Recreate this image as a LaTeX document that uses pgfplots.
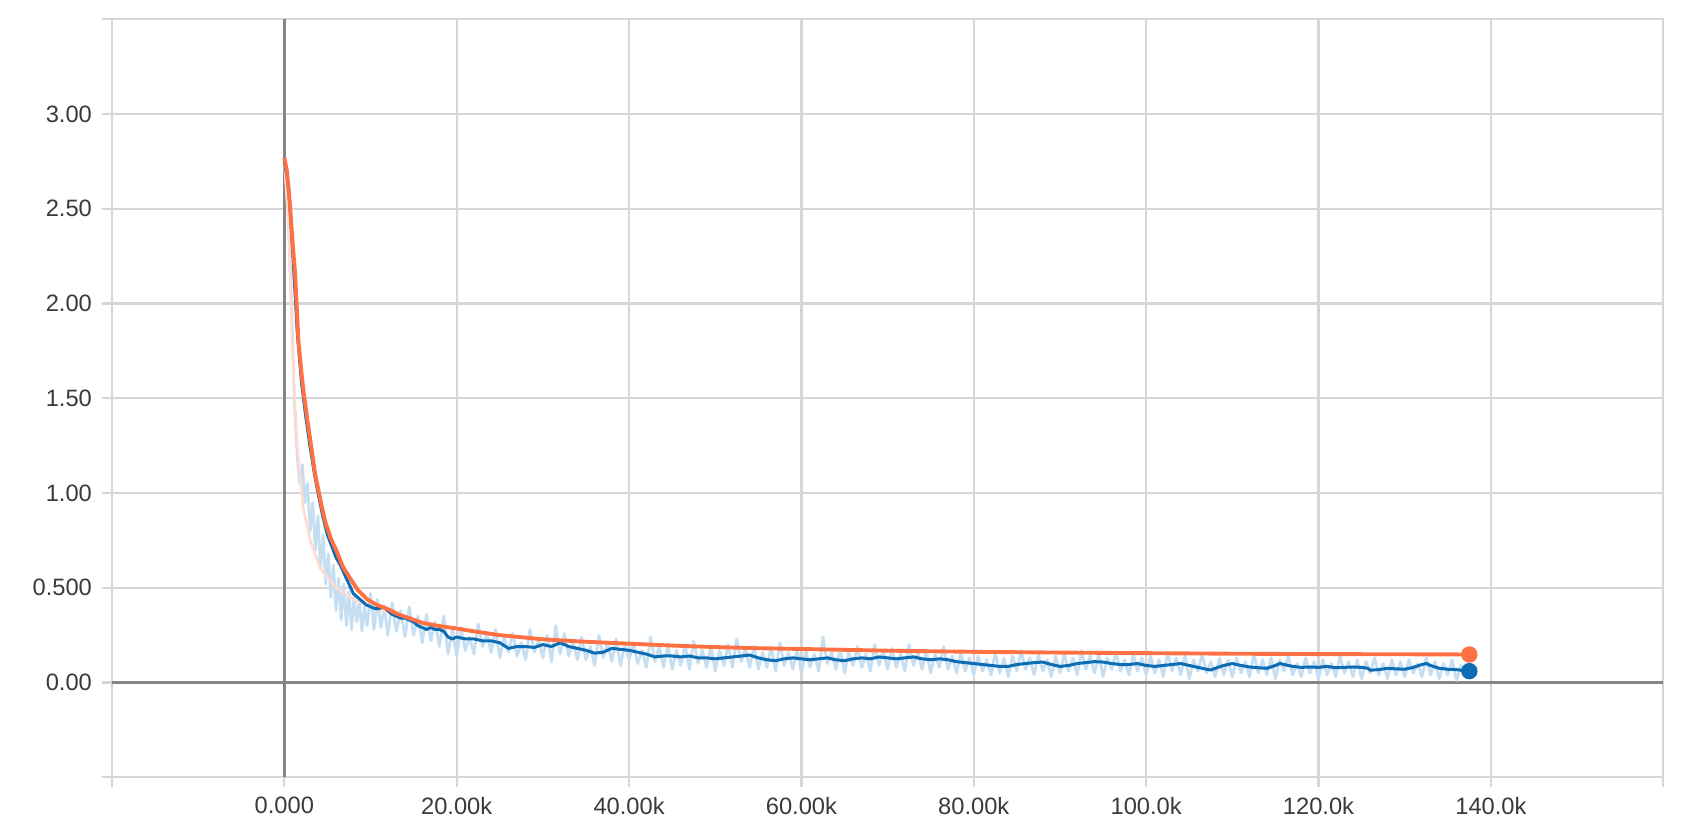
\documentclass[border=0pt]{standalone}
\usepackage{fontspec}
\setmainfont{Liberation Sans}
\usepackage{pgfplots}
\pgfplotsset{compat=1.18}
\definecolor{tbblue}{HTML}{0C6DB5}
\definecolor{tborange}{HTML}{FF7043}
\definecolor{rawblue}{HTML}{C6DEF1}
\definecolor{raworange}{HTML}{FFDCD0}
\definecolor{gridc}{HTML}{D6D6D6}
\definecolor{zeroc}{HTML}{858585}
\definecolor{labc}{HTML}{3A3A3A}

\begin{document}
\begin{tikzpicture}
\begin{axis}[
  scale only axis, width=720.5pt, height=352pt,
  xmin=-20, xmax=160, ymin=-0.5, ymax=3.5,
  xtick={-20,0,20,40,60,80,100,120,140,160},
  xticklabels={,0.000,20.00k,40.00k,60.00k,80.00k,100.0k,120.0k,140.0k,},
  ytick={-0.5,0,0.5,1,1.5,2,2.5,3,3.5},
  yticklabels={,0.00,0.500,1.00,1.50,2.00,2.50,3.00,},
  grid=major, major grid style={gridc, line width=1pt},
  axis line style={gridc, line width=1pt},
  tick style={gridc, line width=1pt},
  tick align=outside, major tick length=4.6pt,
  xtick pos=bottom, ytick pos=left,
  ticklabel style={font=\fontsize{11}{13}\selectfont, text=labc},
  yticklabel style={xshift=-1.2pt},
  xticklabel style={yshift=-1pt},
]
% zero lines
\draw[zeroc, line width=1.2pt] (axis cs:0,-0.5) -- (axis cs:0,3.5);
\draw[zeroc, line width=1.2pt] (axis cs:-20,0) -- (axis cs:160,0);

% raw training loss (light)
\addplot[rawblue, line width=1.3pt, line join=round] coordinates {
(0,2.76) (0.3,2.60) (0.6,2.30) (0.9,1.90) (1.2,1.45) (1.5,1.20) (1.8,1.05)
(2.1,1.15) (2.4,0.95) (2.7,1.05) (3.0,0.80) (3.3,0.95) (3.6,0.70) (3.9,0.88)
(4.2,0.60) (4.5,0.78) (4.8,0.52) (5.1,0.68) (5.4,0.45) (5.7,0.62) (6.0,0.38)
(6.3,0.55) (6.6,0.33) (6.9,0.52) (7.2,0.30) (7.5,0.48) (7.8,0.28) (8.1,0.45)
(8.4,0.32) (8.7,0.43) (9.0,0.27) (9.3,0.40) (9.6,0.30) (10,0.47) (10.4,0.28)
(10.8,0.44) (11.2,0.29) (11.6,0.40) (12,0.25) (12.5,0.42) (13,0.27)
(13.5,0.38) (14,0.24) (14.5,0.40) (15,0.25) (15.5,0.35) (16,0.21) (16.5,0.36)
(17,0.22) (17.5,0.32) (18,0.19) (18.5,0.35) (19,0.15) (19.5,0.28) (20,0.14)
(20.5,0.29) (21,0.17) (21.5,0.24) (22,0.15) (22.5,0.31) (23,0.19) (23.5,0.26)
(24,0.16) (24.5,0.28) (25,0.13) (25.5,0.24) (26,0.16)
(26.5,0.26) (27,0.14) (27.5,0.21) (28,0.12) (28.5,0.28) (29,0.16) (29.5,0.23)
(30,0.13) (30.5,0.25) (31,0.11) (31.5,0.30) (32,0.15) (32.5,0.26) (33,0.14)
(33.5,0.21) (34,0.12)
(34.5,0.24) (35,0.12) (35.5,0.19) (36,0.09) (36.5,0.25) (37,0.13) (37.5,0.21)
(38,0.11) (38.5,0.23) (39,0.09) (39.5,0.20) (40,0.12)
(40.5,0.21) (41,0.10) (41.5,0.17) (42,0.08) (42.5,0.24) (43,0.11) (43.5,0.19)
(44,0.08) (44.5,0.20) (45,0.07)
(45.5,0.17) (46,0.09) (46.5,0.20) (47,0.07) (47.5,0.22) (48,0.10) (48.5,0.17)
(49,0.08) (49.5,0.19) (50,0.06) (50.5,0.17) (51,0.09) (51.5,0.20) (52,0.08)
(52.5,0.23) (53,0.11) (53.5,0.18) (54,0.08) (54.5,0.19) (55,0.07)
(55.5,0.16) (56,0.08) (56.5,0.19) (57,0.06) (57.5,0.21) (58,0.09) (58.5,0.16)
(59,0.07) (59.5,0.18) (60,0.05)
(60.5,0.17) (61,0.08) (61.5,0.15) (62,0.06) (62.5,0.24) (63,0.10) (63.5,0.16)
(64,0.07) (64.5,0.18) (65,0.05) (65.5,0.16) (66,0.09) (66.5,0.19) (67,0.08)
(67.5,0.15) (68,0.06) (68.5,0.20) (69,0.09) (69.5,0.17) (70,0.07)
(70.5,0.18) (71,0.08) (71.5,0.15) (72,0.06) (72.5,0.20) (73,0.09) (73.5,0.16)
(74,0.07) (74.5,0.17) (75,0.05) (75.5,0.15) (76,0.08) (76.5,0.19) (77,0.07)
(77.5,0.14) (78,0.05) (78.5,0.16) (79,0.06) (79.5,0.13) (80,0.04)
(80.5,0.14) (81,0.06) (81.5,0.12) (82,0.04) (82.5,0.16) (83,0.05) (83.5,0.13)
(84,0.03) (84.5,0.14) (85,0.06) (85.5,0.17) (86,0.07) (86.5,0.13) (87,0.04)
(87.5,0.15) (88,0.06) (88.5,0.12) (89,0.03) (89.5,0.14) (90,0.05)
(90.5,0.15) (91,0.06) (91.5,0.13) (92,0.04) (92.5,0.17) (93,0.07) (93.5,0.14)
(94,0.05) (94.5,0.15) (95,0.03) (95.5,0.13) (96,0.07) (96.5,0.16) (97,0.06)
(97.5,0.12) (98,0.04) (98.5,0.15) (99,0.06) (99.5,0.13) (100,0.04)
(100.5,0.14) (101,0.05) (101.5,0.12) (102,0.03) (102.5,0.16) (103,0.06)
(103.5,0.13) (104,0.04) (104.5,0.14) (105,0.02) (105.5,0.12) (106,0.06)
(106.5,0.15) (107,0.05) (107.5,0.11) (108,0.03) (108.5,0.13) (109,0.04)
(109.5,0.12) (110,0.03)
(110.5,0.13) (111,0.05) (111.5,0.11) (112,0.03) (112.5,0.15) (113,0.05)
(113.5,0.12) (114,0.04) (114.5,0.13) (115,0.02) (115.5,0.12) (116,0.06)
(116.5,0.14) (117,0.04) (117.5,0.10) (118,0.03) (118.5,0.13) (119,0.05)
(119.5,0.11) (120,0.02)
(120.5,0.12) (121,0.04) (121.5,0.10) (122,0.03) (122.5,0.14) (123,0.05)
(123.5,0.11) (124,0.03) (124.5,0.12) (125,0.02) (125.5,0.11) (126,0.05)
(126.5,0.13) (127,0.04) (127.5,0.10) (128,0.02) (128.5,0.12) (129,0.04)
(129.5,0.11) (130,0.03) (130.5,0.12) (131,0.05) (131.5,0.10) (132,0.03)
(132.5,0.13) (133,0.04) (133.5,0.11) (134,0.02) (134.5,0.10) (135,0.04)
(135.5,0.12) (136,0.01) (136.5,0.09) (137,0.04) (137.5,0.07)
};

% raw validation loss (light)
\addplot[raworange, line width=1.2pt] coordinates {
(0,2.76) (0.5,2.40) (1.05,1.63) (1.5,1.25) (2.2,0.92) (3,0.75) (4.2,0.60)
(6,0.50) (8,0.44) (10,0.40) (12,0.37) (15,0.33) (20,0.285)
};

% smoothed training loss
\addplot[tbblue, line width=1.4pt, line join=round] coordinates {
(0,2.75) (0.5,2.62) (1.0,2.25) (1.5,1.85) (2.0,1.58) (2.5,1.40) (3.0,1.24)
(3.5,1.10) (4.0,0.98) (4.5,0.87) (5.0,0.78) (5.5,0.72) (6.0,0.66) (6.5,0.62)
(7.0,0.57) (7.5,0.52) (8.0,0.47) (8.5,0.45) (9.0,0.43) (9.5,0.41) (10.0,0.40)
(10.5,0.39) (11.0,0.39) (11.5,0.40) (12.0,0.38) (12.5,0.36) (13.0,0.35)
(13.5,0.34) (14.0,0.34) (14.5,0.33) (15.0,0.32) (15.5,0.30) (16.0,0.29)
(16.5,0.28) (17.0,0.29) (17.5,0.28) (18.0,0.28) (18.5,0.27) (19.0,0.24)
(19.5,0.23) (20,0.24) (21,0.23) (22,0.23) (23,0.22) (24,0.22) (25,0.21)
(26,0.18) (27,0.19) (28,0.19) (29,0.185) (30,0.20) (31,0.19) (32,0.21)
(33,0.19) (34,0.18) (35,0.17) (36,0.155) (37,0.16) (38,0.18) (39,0.175)
(40,0.17) (41,0.16) (42,0.15) (43,0.135) (44,0.14) (45,0.14) (46,0.135)
(47,0.14) (48,0.13) (49,0.13) (50,0.125) (51,0.13) (52,0.135) (53,0.14)
(54,0.145) (55,0.13) (56,0.12) (57,0.115) (58,0.125) (59,0.13) (60,0.125)
(61,0.12) (62,0.125) (63,0.13) (64,0.12) (65,0.115) (66,0.125) (67,0.13)
(68,0.125) (69,0.135) (70,0.13) (71,0.125) (72,0.13) (73,0.135) (74,0.125)
(75,0.12) (76,0.125) (77,0.12) (78,0.11) (79,0.105) (80,0.10) (81,0.095)
(82,0.09) (83,0.085) (84,0.085) (85,0.095) (86,0.10) (87,0.105) (88,0.108)
(89,0.095) (90,0.085) (91,0.09) (92,0.10) (93,0.105) (94,0.11) (95,0.108)
(96,0.10) (97,0.095) (98,0.095) (99,0.10) (100,0.09) (101,0.085) (102,0.09)
(103,0.095) (104,0.10) (105,0.09) (106,0.08) (107,0.07) (107.5,0.066)
(108,0.075) (109,0.09) (110,0.10) (111,0.09) (112,0.082) (113,0.078)
(114,0.075) (115,0.09) (115.5,0.10) (116,0.095) (117,0.085) (118,0.08)
(119,0.082) (120,0.08) (121,0.085) (122,0.078) (123,0.08) (124,0.082)
(125,0.08) (125.7,0.075) (126,0.065) (127,0.068) (128,0.075) (129,0.072)
(130,0.07) (131,0.08) (132,0.095) (132.5,0.10) (133,0.09) (134,0.075)
(135,0.07) (136,0.068) (137,0.062) (137.5,0.06)
};

% smoothed validation loss
\addplot[tborange, line width=1.8pt, line join=round] coordinates {
(0,2.77) (0.3,2.70) (0.67,2.51) (1.0,2.30) (1.25,2.16) (1.64,1.80) (2.0,1.63)
(2.22,1.54) (2.8,1.345) (3.2,1.22) (3.58,1.10) (4.2,0.96) (4.74,0.85)
(5.4,0.76) (6.1,0.69) (6.8,0.61) (7.64,0.55) (8.5,0.49) (9.58,0.44)
(10.7,0.41) (11.9,0.39) (13.2,0.36) (14.6,0.338) (16,0.315) (17.7,0.30)
(20,0.285) (22,0.27) (25,0.25) (30,0.228) (35,0.215) (40,0.205) (45,0.195)
(50,0.187) (55,0.181) (60,0.177) (70,0.168) (80,0.162) (90,0.158)
(100,0.155) (110,0.152) (120,0.150) (130,0.149) (137.5,0.148)
};

% last values
\addplot[only marks, mark=*, mark size=3.6pt, tbblue] coordinates {(137.5,0.06)};
\addplot[only marks, mark=*, mark size=3.6pt, tborange] coordinates {(137.5,0.148)};
\end{axis}
\pgfresetboundingbox
\path ([shift={(-52pt,-21pt)}]current axis.south west) rectangle ([shift={(11.5pt,9pt)}]current axis.north east);
\end{tikzpicture}
\end{document}
